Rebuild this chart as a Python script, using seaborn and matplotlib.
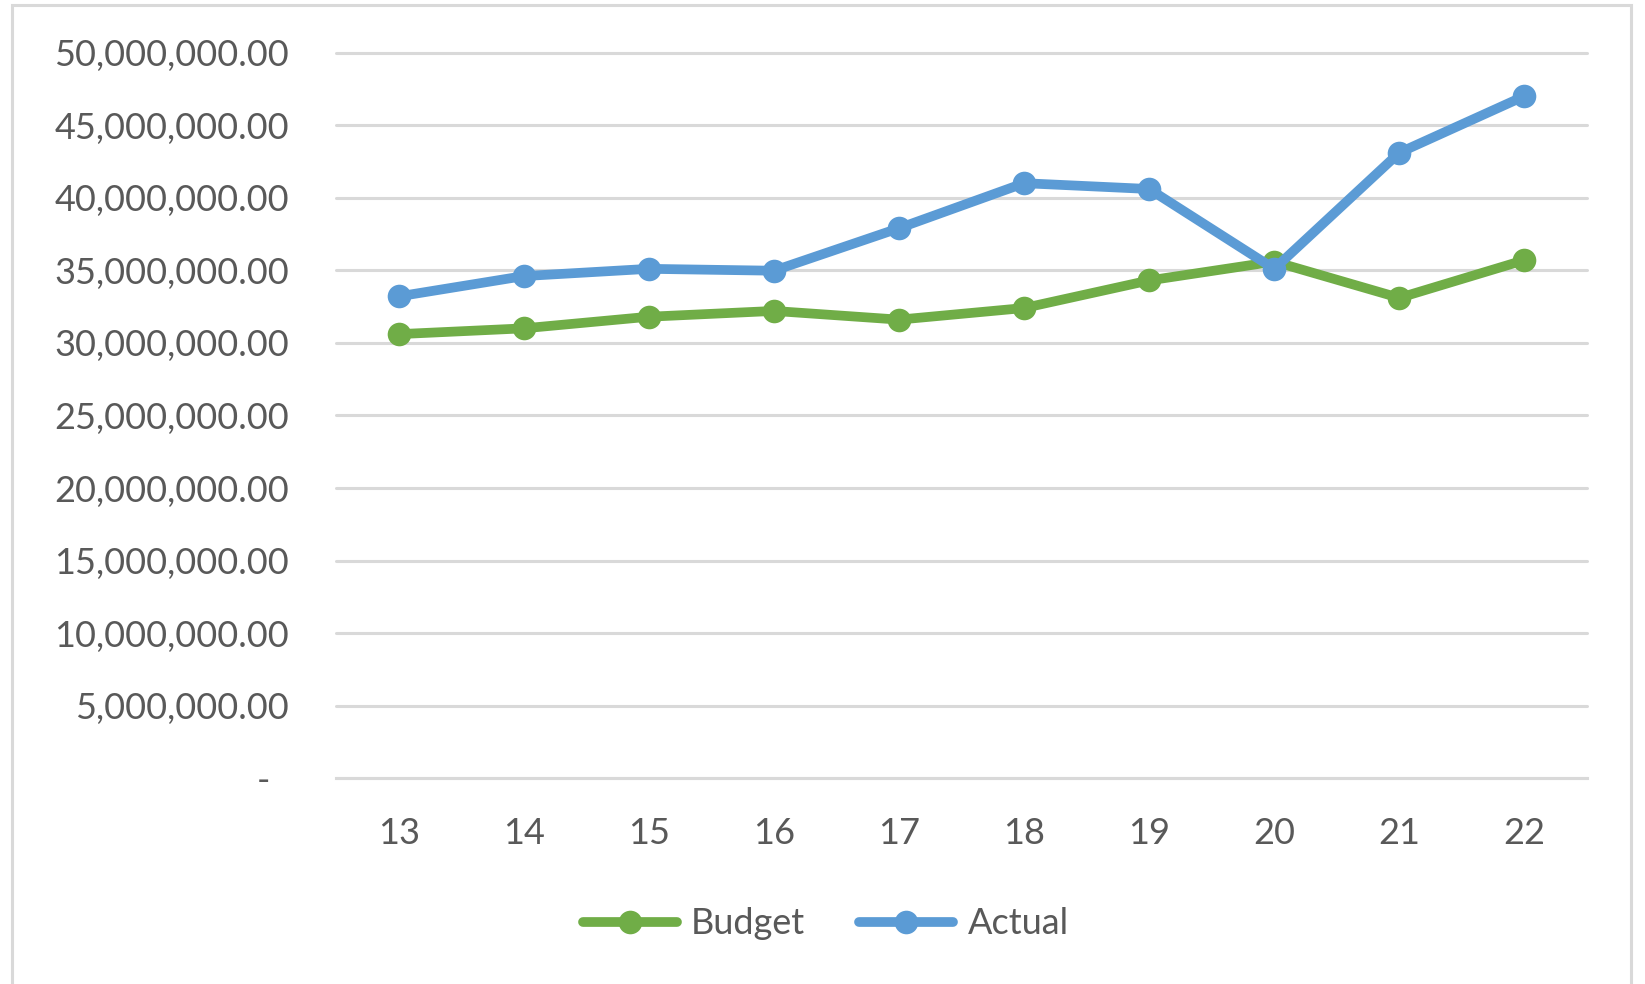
import numpy as np
import pandas as pd
import matplotlib
matplotlib.use("Agg")
import matplotlib.pyplot as plt
import seaborn as sns
from matplotlib.patches import Rectangle
from matplotlib.ticker import FuncFormatter

# periods on the x axis
periods = ["13", "14", "15", "16", "17", "18", "19", "20", "21", "22"]

# values
budget = [30.6e6, 31.0e6, 31.8e6, 32.2e6, 31.6e6, 32.4e6, 34.3e6, 35.6e6, 33.1e6, 35.7e6]
actual = [33.2e6, 34.6e6, 35.1e6, 34.97e6, 37.9e6, 41.0e6, 40.6e6, 35.1e6, 43.1e6, 47.0e6]

series_names = ["Budget", "Actual"]
colores = {"Budget": "#70AD47", "Actual": "#5B9BD5"}

df = pd.DataFrame({
    "periodo": periods * 2,
    "valor": budget + actual,
    "serie": ["Budget"] * len(periods) + ["Actual"] * len(periods),
})

sns.set_theme(style="white")
plt.rcParams["font.family"] = ["Lato", "DejaVu Sans"]

fig = plt.figure(figsize=(16.45, 9.84), dpi=100)
ax = fig.add_axes([0.2043, 0.209, 0.7604, 0.7376])

# Excel-like outer chart border
fig.patches.append(Rectangle((12 / 1645, -0.02), 1619 / 1645, 1 - 5 / 984 + 0.02,
                             transform=fig.transFigure, fill=False,
                             edgecolor="#D9D9D9", linewidth=2.2, zorder=0))

sns.lineplot(data=df, x="periodo", y="valor", hue="serie", hue_order=series_names,
             palette=colores, marker="o", markersize=17, markeredgewidth=0,
             linewidth=7, sort=False, ax=ax, legend=False)

ax.set_xlim(-0.5, len(periods) - 0.5)
ax.set_ylim(0, 50e6)
ax.set_yticks(np.arange(0, 50e6 + 1, 5e6))


def fmt(v, pos):
    if v == 0:
        return "-  "
    return f"{v:,.2f}"


ax.yaxis.set_major_formatter(FuncFormatter(fmt))
ax.grid(axis="y", color="#D9D9D9", linewidth=2.2, clip_on=False)
ax.set_axisbelow(True)
for lado in ["top", "right", "left"]:
    ax.spines[lado].set_visible(False)
ax.spines["bottom"].set_color("#D9D9D9")
ax.spines["bottom"].set_linewidth(2.2)

ax.tick_params(axis="y", length=0, pad=34, labelsize=26, labelcolor="#595959")
ax.tick_params(axis="x", length=0, pad=28, labelsize=26, labelcolor="#595959")
ax.set_xlabel("")
ax.set_ylabel("")

handles = [plt.Line2D([], [], color=colores[s], linewidth=7, marker="o",
                      markersize=17, markeredgewidth=0, solid_capstyle="round")
           for s in series_names]
fig.legend(handles, series_names, loc="center", bbox_to_anchor=(0.502, 0.061),
           ncol=2, frameon=False, fontsize=26, labelcolor="#595959",
           handlelength=2.6, handletextpad=0.4, columnspacing=1.5)

plt.savefig("out.png", dpi=100)
plt.close()
